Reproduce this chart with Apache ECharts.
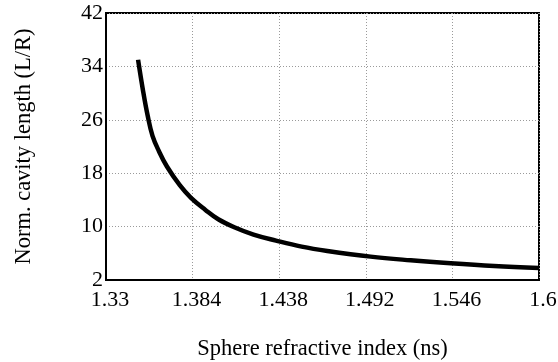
<!DOCTYPE html>
<html>
<head>
<meta charset="utf-8">
<script src="https://cdn.jsdelivr.net/npm/echarts@6/dist/echarts.min.js"></script>
<style>
  html, body { margin: 0; padding: 0; background: #fff; }
  #chart { width: 558px; height: 362px; }
</style>
</head>
<body>
<div id="chart"></div>
<script>
// Sphere refractive index (ns) vs normalized cavity length (L/R)
const refractiveIndex = [1.350, 1.353, 1.356, 1.359, 1.363, 1.368, 1.376, 1.383, 1.392, 1.400,
                         1.410, 1.422, 1.436, 1.452, 1.468, 1.495, 1.520, 1.545, 1.572, 1.600];
const cavityLength    = [35.0, 30.5, 26.6, 23.6, 21.3, 19.0, 16.2, 14.3, 12.5, 11.1,
                         9.9, 8.8, 7.9, 7.0, 6.35, 5.5, 4.95, 4.5, 4.1, 3.8];

const xTickLabels = ['1.33', '1.384', '1.438', '1.492', '1.546', '1.6'];
const yTickLabels = ['2', '10', '18', '26', '34', '42'];

// Axes start at the first tick; values are plotted relative to it
const xStart = 1.33, xStep = 0.054;
const yStart = 2, yStep = 8;

const points = refractiveIndex.map((n, i) => [n - xStart, cavityLength[i] - yStart]);

const serif = '"Liberation Serif", "DejaVu Serif", serif';

const chart = echarts.init(document.getElementById('chart'));
chart.setOption({
  animation: false,
  backgroundColor: '#fff',
  grid: {
    left: 106, right: 19, top: 13, bottom: 82,
    containLabel: false,
    outerBoundsMode: 'none',
    show: true, borderColor: '#000', borderWidth: 2
  },
  xAxis: {
    type: 'value',
    min: 0, max: xStep * (xTickLabels.length - 1), interval: xStep,
    name: 'Sphere refractive index (ns)',
    nameLocation: 'middle',
    nameGap: 58,
    nameTextStyle: { fontFamily: serif, fontSize: 22.5, color: '#000' },
    axisLine: { show: true, lineStyle: { color: '#000', width: 2 } },
    axisTick: { show: false },
    axisLabel: {
      fontFamily: serif, fontSize: 22, color: '#000', margin: 9,
      padding: [0, 0, 0, 8],
      formatter: v => xTickLabels[Math.round(v / xStep)] || ''
    },
    splitLine: { show: true, lineStyle: { color: '#9a9a9a', width: 1, type: [1, 2] } }
  },
  yAxis: {
    type: 'value',
    min: 0, max: yStep * (yTickLabels.length - 1), interval: yStep,
    name: 'Norm. cavity length (L/R)',
    nameLocation: 'middle',
    nameGap: 70,
    nameTextStyle: { fontFamily: serif, fontSize: 22.5, color: '#000' },
    axisLine: { show: true, lineStyle: { color: '#000', width: 2 } },
    axisTick: { show: false },
    axisLabel: {
      fontFamily: serif, fontSize: 22, color: '#000', margin: 3,
      padding: [9, 0, 0, 0],
      formatter: v => yTickLabels[Math.round(v / yStep)] || ''
    },
    splitLine: { show: true, lineStyle: { color: '#9a9a9a', width: 1, type: [1, 2] } }
  },
  series: [{
    type: 'line',
    data: points,
    smooth: 0.4,
    showSymbol: false,
    lineStyle: { color: '#000', width: 4.5 }
  }]
});
</script>
</body>
</html>
